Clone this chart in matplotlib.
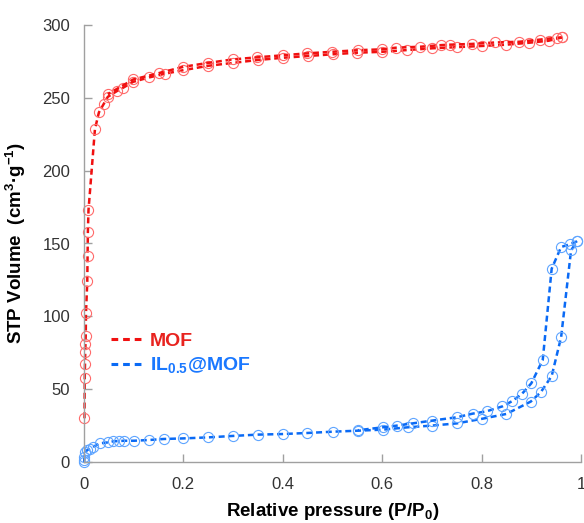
import matplotlib
matplotlib.use("Agg")
import matplotlib.pyplot as plt
from matplotlib.lines import Line2D

plt.rcParams['font.family'] = ['Liberation Sans', 'DejaVu Sans']
plt.rcParams['mathtext.fontset'] = 'custom'
plt.rcParams['mathtext.rm'] = 'Liberation Sans'
plt.rcParams['mathtext.bf'] = 'Liberation Sans:bold'

# MOF adsorption branch
mof_ads_p = [0.001, 0.0015, 0.002, 0.0025, 0.003, 0.0035, 0.004, 0.0066, 0.0072, 0.0078, 0.009,
             0.022, 0.030, 0.040, 0.048, 0.066, 0.079, 0.099, 0.131, 0.162, 0.20, 0.25, 0.30,
             0.35, 0.40, 0.45, 0.50, 0.55, 0.60, 0.65, 0.70, 0.75, 0.80, 0.85, 0.895, 0.935, 0.962]
mof_ads_v = [30, 57.5, 67.4, 75.4, 81, 86.8, 102.4, 124, 141.7, 157.9, 172.8,
             228.5, 240, 246, 250.7, 254.6, 257, 261, 264, 266.5, 269, 272, 274,
             276, 277.5, 278.7, 279.9, 281, 281.6, 282.8, 284, 284.8, 285.6, 286.5, 287.8, 289.2, 291.5]
# MOF desorption branch
mof_des_p = [0.962, 0.952, 0.918, 0.876, 0.827, 0.78, 0.737, 0.719, 0.677, 0.627, 0.60, 0.551,
             0.499, 0.448, 0.40, 0.348, 0.30, 0.25, 0.20, 0.151, 0.099, 0.048]
mof_des_v = [291.5, 291.3, 290, 288.5, 288, 287, 286.5, 286.2, 285.1, 284.4, 283.3, 282.7,
             281.6, 280.5, 279.2, 277.8, 276.4, 274, 271.3, 267, 262.6, 252.5]

# IL0.5@MOF adsorption branch
il_ads_p = [0.0003, 0.0005, 0.0008, 0.002, 0.0067, 0.012, 0.019, 0.032, 0.049, 0.059, 0.071,
            0.081, 0.101, 0.131, 0.16, 0.20, 0.25, 0.30, 0.35, 0.40, 0.448, 0.50, 0.551, 0.601,
            0.651, 0.70, 0.75, 0.80, 0.85, 0.899, 0.919, 0.941, 0.96, 0.98, 0.992]
il_ads_v = [0, 1.4, 3.6, 6.6, 8.2, 9.2, 10.5, 12.8, 13.5, 14.2, 14.4,
            14.6, 14.6, 15.1, 15.8, 16.2, 16.9, 17.9, 18.8, 19.2, 19.9, 20.8, 21.5, 22.2,
            23.8, 25, 26.5, 29.6, 33, 41.5, 47.9, 59, 85.7, 145.3, 151.5]
# IL0.5@MOF desorption branch
il_des_p = [0.992, 0.977, 0.96, 0.941, 0.923, 0.90, 0.881, 0.861, 0.842, 0.81, 0.782, 0.75,
            0.70, 0.661, 0.63, 0.601, 0.551]
il_des_v = [151.5, 149.4, 147.6, 132.7, 70, 54, 46.7, 41.7, 38.2, 34.8, 33.2, 30.7,
            28.4, 26.5, 25, 23.8, 21.8]

x_ticks = [0, 0.2, 0.4, 0.6, 0.8, 1]
x_tick_labels = ['0', '0.2', '0.4', '0.6', '0.8', '1']
y_ticks = [0, 50, 100, 150, 200, 250, 300]

red_line = '#f01010'
red_mk = '#ff6a6a'
red_txt = '#e8231f'
blue_line = '#0a6af5'
blue_mk = '#5fa5ff'
blue_txt = '#1a78ff'

fig = plt.figure(figsize=(5.84, 5.23), dpi=100)
ax = fig.add_axes([84/584, 1-462/523, 497/584, 437/523])

style = dict(lw=1.8, dashes=(2.4, 1.5), marker='o', markersize=7.3, markerfacecolor='none',
             markeredgewidth=0.8, clip_on=False)
ax.plot(mof_ads_p, mof_ads_v, color=red_line, markeredgecolor=red_mk, **style)
ax.plot(mof_des_p, mof_des_v, color=red_line, markeredgecolor=red_mk, **style)
ax.plot(il_ads_p, il_ads_v, color=blue_line, markeredgecolor=blue_mk, **style)
ax.plot(il_des_p, il_des_v, color=blue_line, markeredgecolor=blue_mk, **style)

ax.set_xlim(0, 1)
ax.set_ylim(0, 300)
ax.set_xticks(x_ticks)
ax.set_xticklabels(x_tick_labels)
ax.set_yticks(y_ticks)
for s in ['top', 'right']:
    ax.spines[s].set_visible(False)
for s in ['left', 'bottom']:
    ax.spines[s].set_color('#a0a0a0')
    ax.spines[s].set_linewidth(1.0)
ax.tick_params(axis='both', direction='in', length=6, width=1.0, color='#a0a0a0',
               labelsize=12, labelcolor='#333333')
ax.tick_params(axis='x', pad=11)
ax.tick_params(axis='y', pad=10)

ax.set_xlabel('Relative pressure (P/P$_\\mathbf{0}$)', fontsize=13.5, fontweight='bold',
              labelpad=6)
ax.set_ylabel('STP Volume  (cm$^\\mathbf{3}$·g$^\\mathbf{-1}$)', fontsize=13.5,
              fontweight='bold', labelpad=10)

handles = [Line2D([0], [0], color=red_line, lw=2.2, dashes=(2.2, 1.6)),
           Line2D([0], [0], color=blue_line, lw=2.2, dashes=(2.2, 1.6))]
leg = ax.legend(handles, ['MOF', 'IL$_{\\mathbf{0.5}}$@MOF'], loc='center left',
                bbox_to_anchor=(0.038, 0.247), frameon=False, handlelength=1.7,
                handletextpad=0.3, labelspacing=0.28, borderaxespad=0,
                prop={'weight': 'bold', 'size': 14})
for t, c in zip(leg.get_texts(), [red_txt, blue_txt]):
    t.set_color(c)

fig.savefig('out.png', dpi=100)
